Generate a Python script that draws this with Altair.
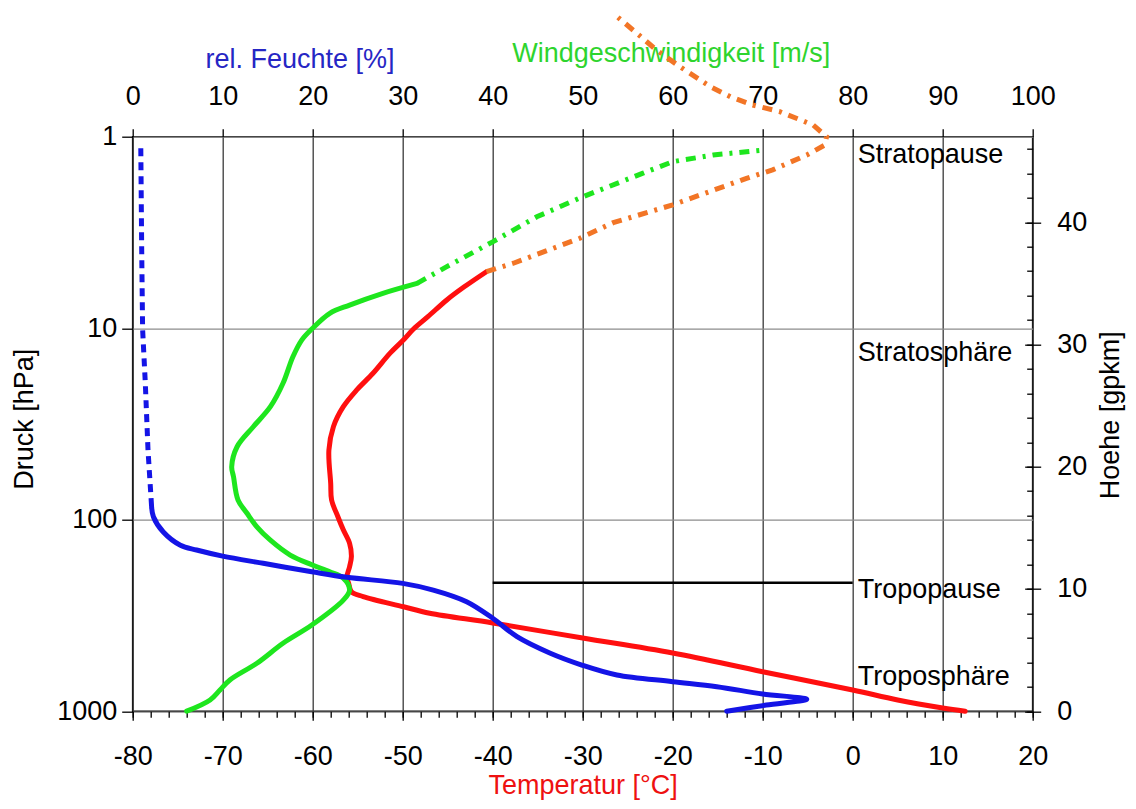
import altair as alt
import pandas as pd

# ---------------- data ----------------
# Temperature (°C) vs pressure (hPa) – measured radiosonde part
temp_c = [12.5, 10, 5, 0, -10, -20, -30, -40, -47, -49.9, -54.4, -55.7, -56.0, -56.2,
          -55.9, -55.7, -55.9, -56.6, -57.2, -57.9, -58.0, -58.2, -57.7, -56.6, -55.1,
          -53.3, -51.4, -49.9, -48.8, -47.2, -45.1, -43.2, -40.7]
temp_p = [1000, 962, 874, 775, 622, 497, 415, 346, 308, 285, 252, 238, 215, 199,
          176, 156, 133, 113, 96.5, 78.9, 64.6, 43.3, 32.7, 25.7, 21.0,
          17.2, 13.5, 11.5, 10.1, 8.71, 7.12, 6.1, 5.07]
# Temperature above the balloon burst (dashed, orange)
temp_ext_c = [-40.7, -37.7, -30.3, -26.6, -20, -17, -11.8, -8.9, -5.1, -3.1, -2.9,
              -4.4, -8.1, -11.1, -13.6, -15.8, -19.2, -21.8, -24.0, -26.6]
temp_ext_p = [5.07, 4.58, 3.39, 2.81, 2.27, 2.02, 1.65, 1.49, 1.246, 1.105, 1.0,
              0.869, 0.74, 0.683, 0.618, 0.548, 0.431, 0.353, 0.288, 0.227]
# Wind speed (m/s)
wind_ms = [6.0, 8.6, 9.7, 10.8, 13.8, 16.7, 19.9, 23.4, 24.1, 23.4, 21.9, 19.9, 17.5,
           15.3, 13.8, 12.7, 11.7, 11.2, 11.0, 11.6, 13.4, 15.3, 16.7, 17.8, 18.8,
           19.9, 21.9, 24.1, 27.8, 31.6]
wind_p = [1000, 874, 775, 687, 562, 442, 355, 263, 233, 202, 187, 172, 153,
          128, 109, 92.6, 78.9, 59.6, 52.9, 41.6, 32.7, 25.7, 19.4, 14.1, 11.5,
          10.1, 8.36, 7.57, 6.57, 5.83]
wind_ext_ms = [31.6, 34.9, 40.0, 44.9, 50.0, 56.7, 60.0, 64.5, 68.2, 70.1]
wind_ext_p = [5.83, 4.77, 3.54, 2.62, 2.06, 1.55, 1.35, 1.246, 1.198, 1.174]
# Relative humidity (%)
rh_pct = [2.1, 2.3, 3.4, 5.3, 7.1, 10.0, 14.5, 19.9, 23.8, 30.0, 33.4, 37.1, 40.0,
          42.7, 46.4, 49.9, 53.8, 60.0, 64.9, 70.0, 74.9, 70.4, 66.0]
rh_p = [85.5, 96.5, 116, 136, 144, 155, 169, 187, 200, 215, 233, 268, 327,
        408, 498, 574, 647, 701, 745, 813, 866, 929, 1000]
rh_ext_pct = [0.9, 1.0, 1.1, 1.4, 1.7, 2.1]
rh_ext_p = [1.15, 3.91, 10.1, 19.3, 43.3, 85.5]

# Layer annotations (height in gpkm)
layer_names = ["Stratopause", "Stratosphäre", "Tropopause", "Troposphäre"]
layer_height_km = [45.5, 29.3, 9.9, 2.8]
layer_label_temp = [0, 0, 0, 0]
tropopause_height_km = [10.5]
tropopause_temp_from = [-40]
tropopause_temp_to = [0]

temp_ticks = list(range(-80, 21, 10))
temp_minor_ticks = list(range(-80, 21, 2))
top_ticks = list(range(0, 101, 10))
pressure_ticks = [1, 10, 100, 1000]
height_ticks = list(range(0, 41, 10))
height_minor_ticks = list(range(0, 47, 2))

# ---------------- tables ----------------
def prof(vals, press):
    return pd.DataFrame({"v": vals, "p": press, "i": list(range(len(vals)))})

df_t = prof(temp_c, temp_p)
df_te = prof(temp_ext_c, temp_ext_p)
df_w = prof(wind_ms, wind_p)
df_we = prof(wind_ext_ms, wind_ext_p)
df_r = prof(rh_pct, rh_p)
df_re = prof(rh_ext_pct, rh_ext_p)
df_lab = pd.DataFrame({"name": layer_names, "h": layer_height_km, "T": layer_label_temp})
df_tp = pd.DataFrame({"h": tropopause_height_km, "t1": tropopause_temp_from,
                      "t2": tropopause_temp_to})

FONT = "Liberation Sans"
FS = 27
RED, GREEN, BLUE, ORANGE = "#ff0f0f", "#1ee61e", "#1414e6", "#f27526"

T_SCALE = alt.Scale(domain=[-80, 20], nice=False, zero=False)
P_SCALE = alt.Scale(type="log", domain=[1, 1000], reverse=True, nice=False)
PCT_SCALE = alt.Scale(domain=[0, 100], nice=False, zero=False)
H_SCALE = alt.Scale(domain=[0, 47], nice=False, zero=False)

W, H = 900, 574.5
PAD = {"left": 124.7, "top": 128.7, "right": 95, "bottom": 89}

y_noaxis = alt.Y("p:Q", scale=P_SCALE, axis=None)
order = alt.Order("i:Q")

# Temperature (solid) – owns bottom major axis and left axis
temp_line = alt.Chart(df_t).mark_line(
    color=RED, strokeWidth=5, interpolate="catmull-rom", strokeCap="round"
).encode(
    x=alt.X("v:Q", scale=T_SCALE, axis=alt.Axis(
        orient="bottom", values=temp_ticks, labelExpr="'' + datum.value",
        labelFlush=False, grid=True, gridColor="#3a3a3a", gridWidth=1.3,
        tickSize=9, labelPadding=23, domain=False,
        title="Temperatur [°C]", titleColor="#ee1111",
        titleX=W / 2, titleY=82, titleBaseline="alphabetic", titleAlign="center")),
    y=alt.Y("p:Q", scale=P_SCALE, axis=alt.Axis(
        orient="left", values=pressure_ticks, format="d", grid=True,
        gridColor="#8c8c8c", gridWidth=1.3, tickSize=11, labelPadding=5,
        domain=False, title="Druck [hPa]", titleAngle=270,
        titleX=-108.7, titleY=282, titleBaseline="middle", titleAlign="center")),
    order=order,
)

# Temperature extension (dashed) – owns bottom minor ticks
temp_ext = alt.Chart(df_te).mark_line(
    color=ORANGE, strokeWidth=5, strokeDash=[10, 7, 3, 7]
).encode(
    x=alt.X("v:Q", scale=T_SCALE, axis=alt.Axis(
        orient="bottom", values=temp_minor_ticks, labels=False, grid=False,
        tickSize=6, domain=False, title=None)),
    y=y_noaxis,
    order=order,
)

# Wind speed
wind_line = alt.Chart(df_w).mark_line(
    color=GREEN, strokeWidth=5, interpolate="catmull-rom", strokeCap="round"
).encode(
    x=alt.X("v:Q", scale=PCT_SCALE, axis=alt.Axis(
        orient="top", labels=False, ticks=False, grid=False, domain=False,
        title="Windgeschwindigkeit [m/s]", titleColor="#2ed42e",
        titleX=538, titleY=-75, titleBaseline="alphabetic", titleAlign="center")),
    y=y_noaxis,
    order=order,
)
wind_ext = alt.Chart(df_we).mark_line(
    color=GREEN, strokeWidth=5, strokeDash=[10, 7, 3, 7]
).encode(
    x=alt.X("v:Q", scale=PCT_SCALE, axis=None),
    y=y_noaxis,
    order=order,
)

# Relative humidity – owns top labelled axis
rh_line = alt.Chart(df_r).mark_line(
    color=BLUE, strokeWidth=5, interpolate="catmull-rom", strokeCap="round"
).encode(
    x=alt.X("v:Q", scale=PCT_SCALE, axis=alt.Axis(
        orient="top", values=top_ticks, labelFlush=False, grid=False,
        tickSize=8, labelPadding=18, domain=False,
        title="rel. Feuchte [%]", titleColor="#2626c4",
        titleX=166.8, titleY=-69, titleBaseline="alphabetic", titleAlign="center")),
    y=y_noaxis,
    order=order,
)
rh_ext = alt.Chart(df_re).mark_line(
    color=BLUE, strokeWidth=5, strokeDash=[8, 6]
).encode(
    x=alt.X("v:Q", scale=PCT_SCALE, axis=None),
    y=y_noaxis,
    order=order,
)

# Tropopause line – owns right minor ticks
tropo = alt.Chart(df_tp).mark_rule(color="black", strokeWidth=2.5).encode(
    x=alt.X("t1:Q", scale=T_SCALE, axis=None),
    x2="t2:Q",
    y=alt.Y("h:Q", scale=H_SCALE, axis=alt.Axis(
        orient="right", values=height_minor_ticks, labels=False, grid=False,
        tickSize=6, offset=-6, domain=False, title=None)),
)

# Layer labels – own right labelled axis
labels = alt.Chart(df_lab).mark_text(
    align="left", baseline="middle", dx=5, font=FONT, fontSize=FS, color="black"
).encode(
    x=alt.X("T:Q", scale=T_SCALE, axis=None),
    y=alt.Y("h:Q", scale=H_SCALE, axis=alt.Axis(
        orient="right", values=height_ticks, grid=False, tickSize=16, offset=-8,
        labelPadding=16, domain=False, title="Hoehe [gpkm]", titleAngle=270,
        titleX=86, titleY=278, titleBaseline="middle", titleAlign="center")),
    text="name:N",
)

chart = alt.layer(
    temp_line, temp_ext, wind_line, wind_ext, rh_line, rh_ext, tropo, labels
).resolve_scale(
    x="independent", y="independent"
).properties(
    width=W, height=H, autosize=alt.AutoSizeParams(type="none"), padding=PAD,
    background="white",
).configure_axis(
    labelFont=FONT, labelFontSize=FS, labelColor="black",
    titleFont=FONT, titleFontSize=FS, titleFontWeight="normal",
    tickColor="black", tickWidth=1.3,
).configure_view(stroke="black", strokeWidth=1.6)

chart.save("out.html", embed_options={"renderer": "svg", "actions": False})
